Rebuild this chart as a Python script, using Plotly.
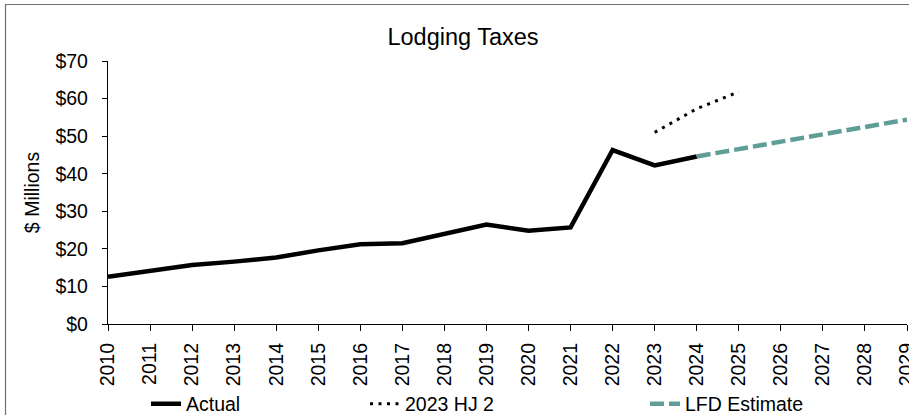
import plotly.graph_objects as go

# Annual lodging tax revenue, $ millions
actual_years = [2010, 2011, 2012, 2013, 2014, 2015, 2016, 2017, 2018, 2019,
                2020, 2021, 2022, 2023, 2024]
actual_vals = [12.6, 14.2, 15.7, 16.6, 17.7, 19.6, 21.2, 21.5, 24.0, 26.5,
               24.8, 25.7, 46.3, 42.2, 44.6]

hj2_years = [2023, 2024, 2025]
hj2_vals = [51.0, 57.3, 61.8]

lfd_years = [2024, 2025, 2026, 2027, 2028, 2029]
lfd_vals = [44.6, 46.5, 48.4, 50.3, 52.3, 54.4]

year_ticks = list(range(2010, 2030))
y_ticks = [0, 10, 20, 30, 40, 50, 60, 70]
y_labels = ["$" + str(v) for v in y_ticks]

FONT = "Liberation Sans, Arial, sans-serif"
W, H = 909, 415
L, R, T, B = 108, 2, 61, 91

fig = go.Figure()
fig.add_trace(go.Scatter(
    x=actual_years, y=actual_vals, name="Actual", mode="lines",
    line=dict(color="#000000", width=4.5), legend="legend"))
fig.add_trace(go.Scatter(
    x=hj2_years, y=hj2_vals, name="2023 HJ 2", mode="lines",
    line=dict(color="#000000", width=3, dash="3px,5.5px"), legend="legend2"))
fig.add_trace(go.Scatter(
    x=lfd_years, y=lfd_vals, name="LFD Estimate", mode="lines",
    line=dict(color="#5f9e97", width=4.5, dash="14px,5px"), legend="legend3"))

pw = W - L - R
ph = H - T - B


def px_x(p):
    return (p - L) / pw


def px_y(p):
    return (H - B - p) / ph


leg_common = dict(orientation="h", xref="container", yref="container",
                  yanchor="middle", bgcolor="rgba(0,0,0,0)",
                  font=dict(family=FONT, size=19.5, color="#000000"))

fig.update_layout(
    width=W, height=H,
    margin=dict(l=L, r=R, t=T, b=B, autoexpand=False),
    paper_bgcolor="#ffffff", plot_bgcolor="#ffffff",
    font=dict(family=FONT, color="#000000"),
    title=dict(text="Lodging Taxes", x=463 / W, xanchor="center",
               y=1 - 37 / H, yanchor="middle",
               font=dict(family=FONT, size=23.5, color="#000000")),
    showlegend=True,
    legend=dict(x=146 / W, y=(H - 404) / H, **leg_common),
    legend2=dict(x=365 / W, y=(H - 404) / H, **leg_common),
    legend3=dict(x=645 / W, y=(H - 404) / H, **leg_common),
    xaxis=dict(range=[2010, 2029], tickvals=year_ticks,
               ticktext=[str(y) for y in year_ticks], tickangle=-90,
               showgrid=False, zeroline=False, showline=True,
               linecolor="#000000", linewidth=1.3, ticks="outside",
               ticklen=6, tickcolor="#000000", tickwidth=1.3,
               ticklabelstandoff=4, ticklabeloverflow="allow",
               automargin=False,
               tickfont=dict(family=FONT, size=19.5, color="#000000")),
    yaxis=dict(range=[0, 70], tickvals=y_ticks, ticktext=y_labels,
               showgrid=False, zeroline=False, showline=True,
               linecolor="#000000", linewidth=1.3, ticks="outside",
               ticklen=5, tickcolor="#000000", tickwidth=1.3,
               ticklabelstandoff=10, automargin=False,
               tickfont=dict(family=FONT, size=19.5, color="#000000"),
               title=dict(text="$ Millions", standoff=10,
                          font=dict(family=FONT, size=19.5, color="#000000"))),
)

# chart frame (extends past the right and bottom edges of the page)
fig.add_shape(type="rect", xref="paper", yref="paper",
              x0=px_x(5.5), x1=px_x(W + 20), y0=px_y(H + 20), y1=px_y(4.5),
              line=dict(color="#6f6f6f", width=1.2), fillcolor="rgba(0,0,0,0)",
              layer="below")

fig.write_html("out.html")
